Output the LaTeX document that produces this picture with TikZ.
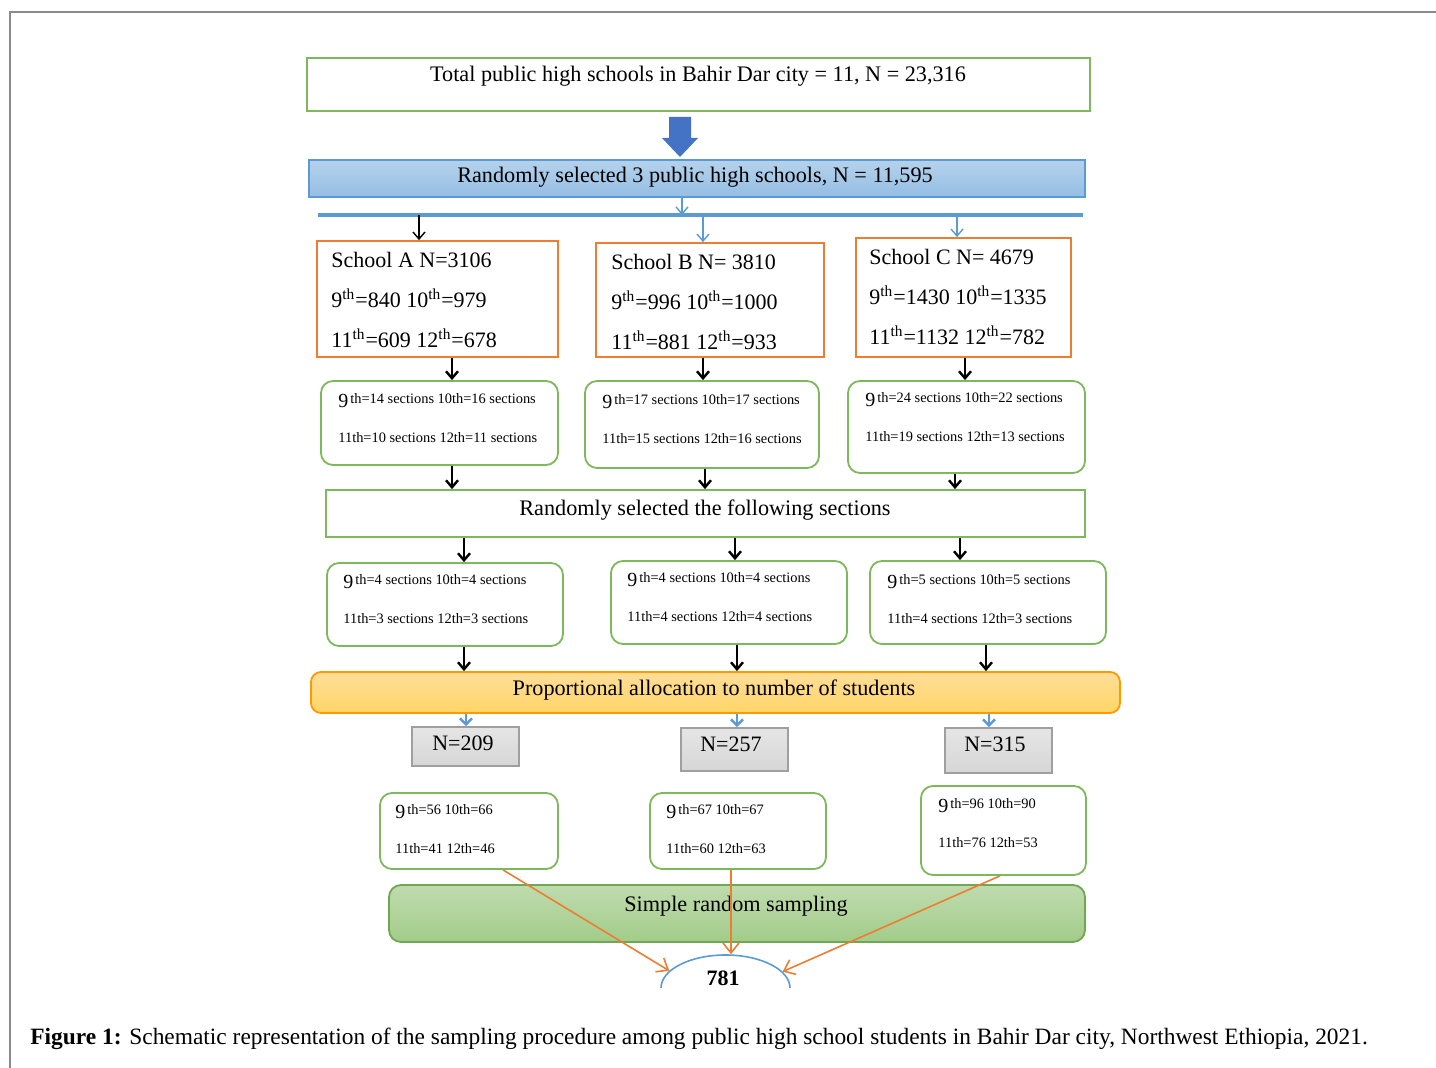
\documentclass[tikz,border=0pt]{standalone}
\usepackage{fontspec}
\setmainfont{Liberation Serif}
\usetikzlibrary{arrows.meta,fit,shapes.geometric}
\definecolor{grnb}{HTML}{7EB85C}
\definecolor{orgb}{HTML}{ED7D31}
\definecolor{blueb}{HTML}{5B9BD5}
\definecolor{dblue}{HTML}{4472C4}
\definecolor{frm}{HTML}{8A8A8A}
\newcommand{\sth}{\textsuperscript{th}}
\newcommand{\bignine}[1]{\raisebox{-2pt}{\fontsize{10}{12}\selectfont 9}\hspace{1pt}#1}
\begin{document}
\begin{tikzpicture}[x=0.5pt,y=-0.5pt,
  every node/.style={inner sep=0pt},
  gbox/.style={draw=grnb, line width=0.9pt},
  rgbox/.style={gbox, rounded corners=6pt},
  obox/.style={draw=orgb, line width=0.9pt},
  gray box/.style={draw=gray!75, line width=0.8pt, top color=gray!20, bottom color=gray!32},
  bigtxt/.style={font=\fontsize{11.1}{12}\selectfont},
  schtxt/.style={anchor=west, align=left, font=\fontsize{11}{20}\selectfont},
  smtxt/.style={anchor=west, align=left, font=\fontsize{7.2}{19.5}\selectfont},
  karrow/.style={line width=1.2pt, -{Straight Barb[length=3.5pt,width=6pt]}},
  kthin/.style={line width=0.7pt, -{Straight Barb[length=3.5pt,width=6pt]}},
  barrow/.style={draw=blueb, line width=0.7pt, -{Straight Barb[length=3.5pt,width=6pt]}},
  bthick/.style={draw=blueb, line width=1.3pt, -{Straight Barb[length=3pt,width=6pt]}},
  oarrow/.style={draw=orgb, line width=0.8pt, -{Straight Barb[length=5pt,width=8pt]}}
]
\useasboundingbox (0,0) rectangle (1436,1068);
\fill[white] (0,0) rectangle (1436,1068);
% frame
\draw[frm, line width=0.9pt] (10,1068) -- (10,12) -- (1436,12);

% column coordinates
\foreach \n/\v in {c1/682, c2/419, c3/703, c4/957, kA/452, kB/703, kC/965,
  mA/452, mB/705, mC/955, sA/464, sB/735, sC/960, pA/464, pB/737, pC/986,
  qA/466, qB/737, qC/989, o1/503, o2/731, o3/1000}
  \coordinate (\n) at (\v,0);

% top box
\node[gbox, fit={(307,58) (1090,111)}] (tot) {};
\node[bigtxt] (totT) at (698,76) {Total public high schools in Bahir Dar city = 11, N = 23,316};

% block arrow
\fill[dblue] (669,117) -- (691,117) -- (691,138) -- (698,138) -- (680,157) -- (662,138) -- (669,138) -- cycle;

% randomly selected 3 schools
\node[draw=blueb, line width=0.8pt, top color=blueb!45, bottom color=blueb!65, fit={(309,160) (1085,197)}] (sel3) {};
\node[bigtxt] (sel3T) at (695,177) {Randomly selected 3 public high schools, N = 11,595};

% horizontal line
\coordinate (hL) at (318,215);
\coordinate (hR) at (1083,215);
\draw[blueb, line width=1.6pt] (hL) -- (hR);

% school boxes
\node[obox, fit={(317,241) (558,357)}] (schA) {};
\node[obox, fit={(596,243) (824,357)}] (schB) {};
\node[obox, fit={(856,238) (1071,357)}] (schC) {};
\node[schtxt] (schAT) at (331,300) {School A N=3106\\9\sth=840 10\sth=979\\11\sth=609 12\sth=678};
\node[schtxt] (schBT) at (611,302) {School B N= 3810\\9\sth=996 10\sth=1000\\11\sth=881 12\sth=933};
\node[schtxt] (schCT) at (869,297) {School C N= 4679\\9\sth=1430 10\sth=1335\\11\sth=1132 12\sth=782};

\draw[barrow] (sel3.south -| c1) -- (hL -| c1);
\draw[kthin] (hL -| c2) -- (schA.north -| c2);
\draw[barrow] (hL -| c3) -- (schB.north -| c3);
\draw[barrow] (hL -| c4) -- (schC.north -| c4);

% green row 1
\node[rgbox, fit={(321,381) (558,465)}] (gA) {};
\node[rgbox, fit={(585,381) (819,468)}] (gB) {};
\node[rgbox, fit={(848,381) (1085,473)}] (gC) {};
\node[smtxt] (gAT) at (338,418) {\bignine{th=14 sections 10th=16 sections}\\11th=10 sections 12th=11 sections};
\node[smtxt] (gBT) at (602,419.5) {\bignine{th=17 sections 10th=17 sections}\\11th=15 sections 12th=16 sections};
\node[smtxt] (gCT) at (865,417.5) {\bignine{th=24 sections 10th=22 sections}\\11th=19 sections 12th=13 sections};

\draw[karrow] (schA.south -| kA) -- (gA.north -| kA);
\draw[karrow] (schB.south -| kB) -- (gB.north -| kB);
\draw[karrow] (schC.south -| kC) -- (gC.north -| kC);

% following sections
\node[gbox, fit={(326,490) (1085,537)}] (sel) {};
\node[bigtxt] (selT) at (705,510) {Randomly selected the following sections};

\draw[karrow] (gA.south -| mA) -- (sel.north -| mA);
\draw[karrow] (gB.south -| mB) -- (sel.north -| mB);
\draw[karrow] (gC.south -| mC) -- (sel.north -| mC);

% green row 2
\node[rgbox, fit={(327,563) (563,646)}] (rA) {};
\node[rgbox, fit={(611,561) (847,644)}] (rB) {};
\node[rgbox, fit={(870,561) (1106,644)}] (rC) {};
\node[smtxt] (rAT) at (343,599.5) {\bignine{th=4 sections 10th=4 sections}\\11th=3 sections 12th=3 sections};
\node[smtxt] (rBT) at (627,597.5) {\bignine{th=4 sections 10th=4 sections}\\11th=4 sections 12th=4 sections};
\node[smtxt] (rCT) at (887,599) {\bignine{th=5 sections 10th=5 sections}\\11th=4 sections 12th=3 sections};

\draw[karrow] (sel.south -| sA) -- (rA.north -| sA);
\draw[karrow] (sel.south -| sB) -- (rB.north -| sB);
\draw[karrow] (sel.south -| sC) -- (rC.north -| sC);

% proportional allocation
\node[draw=orange!80!yellow, line width=0.9pt, rounded corners=5pt, top color=yellow!35!orange!40, bottom color=yellow!45!orange!60, fit={(311,672) (1120,713)}] (prop) {};
\node[bigtxt] (propT) at (714,690) {Proportional allocation to number of students};

\draw[karrow] (rA.south -| pA) -- (prop.north -| pA);
\draw[karrow] (rB.south -| pB) -- (prop.north -| pB);
\draw[karrow] (rC.south -| pC) -- (prop.north -| pC);

% gray boxes
\node[gray box, fit={(412,727) (519,766)}] (nA) {};
\node[gray box, fit={(681,728) (788,771)}] (nB) {};
\node[gray box, fit={(945,728) (1052,773)}] (nC) {};
\node[font=\fontsize{11}{12}\selectfont] (nAT) at (463,743) {N=209};
\node[font=\fontsize{11}{12}\selectfont] (nBT) at (731,744) {N=257};
\node[font=\fontsize{11}{12}\selectfont] (nCT) at (995,744) {N=315};

\draw[bthick] (prop.south -| qA) -- (nA.north -| qA);
\draw[bthick] (prop.south -| qB) -- (nB.north -| qB);
\draw[bthick] (prop.south -| qC) -- (nC.north -| qC);

% green row 3
\node[rgbox, fit={(380,793) (558,869)}] (fA) {};
\node[rgbox, fit={(650,793) (826,869)}] (fB) {};
\node[rgbox, fit={(921,786) (1086,875)}] (fC) {};
\node[smtxt] (fAT) at (395,829.5) {\bignine{th=56 10th=66}\\11th=41 12th=46};
\node[smtxt] (fBT) at (666,829.5) {\bignine{th=67 10th=67}\\11th=60 12th=63};
\node[smtxt] (fCT) at (938,823.5) {\bignine{th=96 10th=90}\\11th=76 12th=53};

% simple random sampling
\node[draw=grnb!90!black, line width=0.9pt, rounded corners=6pt, top color=grnb!50, bottom color=grnb!72, fit={(389,885) (1085,942)}] (srs) {};
\node[bigtxt] (srsT) at (736,906) {Simple random sampling};

% ellipse 781
\begin{scope}
  \clip (600,940) rectangle (850,988);
  \node[draw=blueb, line width=0.8pt, ellipse, minimum width=64.5pt, minimum height=33pt] (e781) at (725.5,988) {};
\end{scope}
\node[font=\bfseries\fontsize{11}{12}\selectfont] (n781) at (723,978) {781};

\draw[oarrow] (fA.south -| o1) -- (e781.163);
\draw[oarrow] (fB.south -| o2) -- (e781.north -| o2);
\draw[oarrow] (fC.south -| o3) -- (e781.16);

% caption
\node[anchor=base west, font=\fontsize{11.7}{13}\selectfont] (cap) at (30,1044) {\textbf{Figure 1:} Schematic representation of the sampling procedure among public high school students in Bahir Dar city, Northwest Ethiopia, 2021.};
\end{tikzpicture}
\end{document}
